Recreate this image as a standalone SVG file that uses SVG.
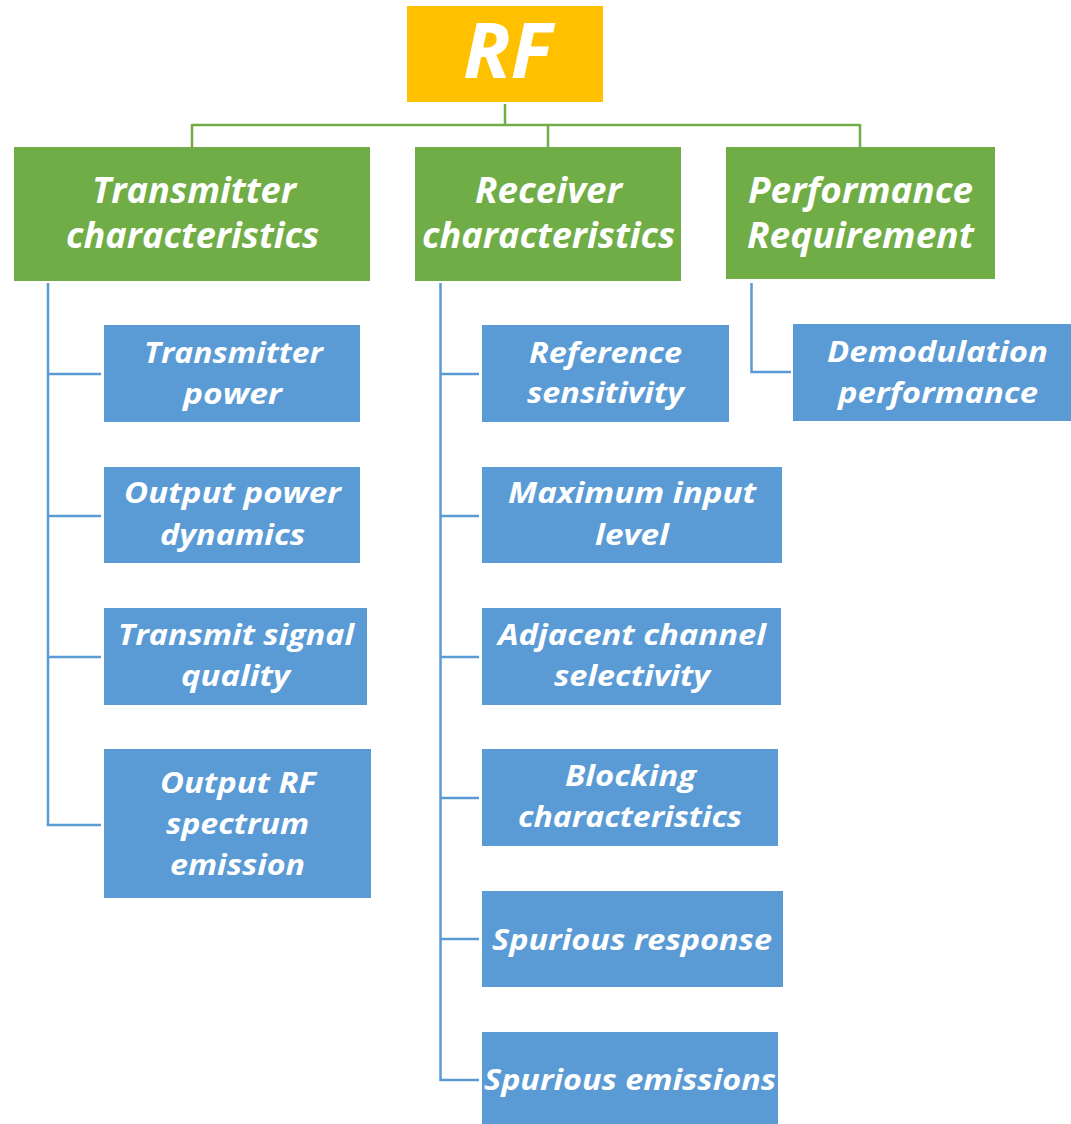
<svg xmlns="http://www.w3.org/2000/svg" width="1071" height="1124" viewBox="0 0 1071 1124">
  <style>
    .root { fill: #FFC000; }
    .cat { fill: #70AD47; }
    .item { fill: #5B9BD5; }
    text { font-family: "Open Sans", "Noto Sans", "DejaVu Sans", sans-serif; font-weight: bold; font-style: italic; fill: #FFFFFF; }
    .t-root { font-size: 77px; }
    .t-cat { font-size: 36px; }
    .t-item { font-size: 29px; }
    .link-green { fill: none; stroke: #70AD47; stroke-width: 2.5; }
    .link-blue { fill: none; stroke: #5B9BD5; stroke-width: 2.5; }
  </style>

  <rect width="1071" height="1124" fill="#FFFFFF"/>

  <!-- connectors -->
  <g id="connectors">
    <path class="link-green" d="M505 104 V125 M192 125 H860 M192 124 V147 M548 124 V147 M860 124 V147"/>
    <path class="link-blue" d="M48 283 V825 H101 M48 374 H101 M48 516 H101 M48 657 H101"/>
    <path class="link-blue" d="M440.5 283 V1080 H479 M440.5 374 H479 M440.5 516 H479 M440.5 657 H479 M440.5 798 H479 M440.5 939 H479"/>
    <path class="link-blue" d="M751.5 283 V372 H791"/>
  </g>

  <!-- root -->
  <g id="node-rf">
    <rect class="root" x="407" y="6" width="196" height="96"/>
    <text class="t-root" x="463" y="78" textLength="89" lengthAdjust="spacingAndGlyphs">RF</text>
  </g>

  <!-- categories -->
  <g id="node-transmitter">
    <rect class="cat" x="14" y="147" width="356" height="134"/>
    <text class="t-cat" x="92" y="203" textLength="204" lengthAdjust="spacingAndGlyphs">Transmitter</text>
    <text class="t-cat" x="66" y="248" textLength="253" lengthAdjust="spacingAndGlyphs">characteristics</text>
  </g>
  <g id="node-receiver">
    <rect class="cat" x="415" y="147" width="266" height="134"/>
    <text class="t-cat" x="475" y="203" textLength="147" lengthAdjust="spacingAndGlyphs">Receiver</text>
    <text class="t-cat" x="422" y="248" textLength="253" lengthAdjust="spacingAndGlyphs">characteristics</text>
  </g>
  <g id="node-performance">
    <rect class="cat" x="726" y="147" width="269" height="132"/>
    <text class="t-cat" x="748" y="203" textLength="225" lengthAdjust="spacingAndGlyphs">Performance</text>
    <text class="t-cat" x="747" y="248" textLength="227" lengthAdjust="spacingAndGlyphs">Requirement</text>
  </g>

  <!-- transmitter items -->
  <g id="node-tx-power">
    <rect class="item" x="104" y="325" width="256" height="97"/>
    <text class="t-item" x="144" y="363" textLength="179" lengthAdjust="spacingAndGlyphs">Transmitter</text>
    <text class="t-item" x="183" y="404" textLength="99" lengthAdjust="spacingAndGlyphs">power</text>
  </g>
  <g id="node-output-power-dynamics">
    <rect class="item" x="104" y="467" width="256" height="96"/>
    <text class="t-item" x="124" y="503" textLength="217" lengthAdjust="spacingAndGlyphs">Output power</text>
    <text class="t-item" x="160" y="545" textLength="145" lengthAdjust="spacingAndGlyphs">dynamics</text>
  </g>
  <g id="node-transmit-signal-quality">
    <rect class="item" x="104" y="608" width="263" height="97"/>
    <text class="t-item" x="118" y="645" textLength="236" lengthAdjust="spacingAndGlyphs">Transmit signal</text>
    <text class="t-item" x="181" y="686" textLength="109" lengthAdjust="spacingAndGlyphs">quality</text>
  </g>
  <g id="node-output-rf-spectrum">
    <rect class="item" x="104" y="749" width="267" height="149"/>
    <text class="t-item" x="160" y="793" textLength="156" lengthAdjust="spacingAndGlyphs">Output RF</text>
    <text class="t-item" x="166" y="834" textLength="143" lengthAdjust="spacingAndGlyphs">spectrum</text>
    <text class="t-item" x="170" y="875" textLength="135" lengthAdjust="spacingAndGlyphs">emission</text>
  </g>

  <!-- receiver items -->
  <g id="node-reference-sensitivity">
    <rect class="item" x="482" y="325" width="247" height="97"/>
    <text class="t-item" x="529" y="363" textLength="153" lengthAdjust="spacingAndGlyphs">Reference</text>
    <text class="t-item" x="527" y="403" textLength="157" lengthAdjust="spacingAndGlyphs">sensitivity</text>
  </g>
  <g id="node-max-input-level">
    <rect class="item" x="482" y="467" width="300" height="96"/>
    <text class="t-item" x="508" y="503" textLength="248" lengthAdjust="spacingAndGlyphs">Maximum input</text>
    <text class="t-item" x="595" y="545" textLength="74" lengthAdjust="spacingAndGlyphs">level</text>
  </g>
  <g id="node-adjacent-channel">
    <rect class="item" x="482" y="608" width="299" height="97"/>
    <text class="t-item" x="498" y="645" textLength="268" lengthAdjust="spacingAndGlyphs">Adjacent channel</text>
    <text class="t-item" x="554" y="686" textLength="156" lengthAdjust="spacingAndGlyphs">selectivity</text>
  </g>
  <g id="node-blocking">
    <rect class="item" x="482" y="749" width="296" height="97"/>
    <text class="t-item" x="565" y="786" textLength="131" lengthAdjust="spacingAndGlyphs">Blocking</text>
    <text class="t-item" x="518" y="827" textLength="224" lengthAdjust="spacingAndGlyphs">characteristics</text>
  </g>
  <g id="node-spurious-response">
    <rect class="item" x="482" y="891" width="301" height="96"/>
    <text class="t-item" x="492" y="950" textLength="280" lengthAdjust="spacingAndGlyphs">Spurious response</text>
  </g>
  <g id="node-spurious-emissions">
    <rect class="item" x="482" y="1032" width="296" height="92"/>
    <text class="t-item" x="484" y="1090" textLength="292" lengthAdjust="spacingAndGlyphs">Spurious emissions</text>
  </g>

  <!-- performance items -->
  <g id="node-demodulation">
    <rect class="item" x="793" y="324" width="278" height="97"/>
    <text class="t-item" x="827" y="362" textLength="221" lengthAdjust="spacingAndGlyphs">Demodulation</text>
    <text class="t-item" x="838" y="403" textLength="200" lengthAdjust="spacingAndGlyphs">performance</text>
  </g>
</svg>
